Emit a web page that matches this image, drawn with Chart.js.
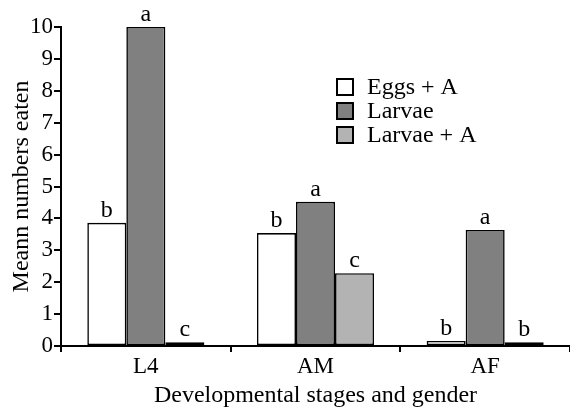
<!DOCTYPE html>
<html>
<head>
<meta charset="utf-8">
<script src="https://cdn.jsdelivr.net/npm/chart.js@4/dist/chart.umd.min.js"></script>
<style>
  html, body { margin: 0; padding: 0; background: #fff; }
  #wrap { width: 570px; height: 410px; }
</style>
</head>
<body>
<div id="wrap"><canvas id="chart" width="570" height="410"></canvas></div>
<script>
// data
const stages = ['L4', 'AM', 'AF'];
const eggsA = [3.86, 3.54, 0.16];
const larvae = [10.0, 4.52, 3.64];
const larvaeA = [0.12, 2.28, 0.12];
const eggsALetters = ['b', 'b', 'b'];
const larvaeLetters = ['a', 'a', 'a'];
const larvaeALetters = ['c', 'c', 'b'];
const yTicks = [0, 1, 2, 3, 4, 5, 6, 7, 8, 9, 10];

const FONT = '"Liberation Serif", "Times New Roman", serif';

// letters over each bar
const letterPlugin = {
    id: 'letters',
    afterDatasetsDraw(chart) {
        const ctx = chart.ctx;
        ctx.save();
        ctx.font = '24px ' + FONT;
        ctx.fillStyle = '#000';
        ctx.textAlign = 'center';
        ctx.textBaseline = 'alphabetic';
        chart.data.datasets.forEach((ds, i) => {
            const meta = chart.getDatasetMeta(i);
            meta.data.forEach((bar, j) => {
                ctx.fillText(ds.letters[j], bar.x, bar.y - 6);
            });
        });
        ctx.restore();
    }
};

// legend drawn inside the plot
const legendPlugin = {
    id: 'boxLegend',
    afterDraw(chart) {
        const ctx = chart.ctx;
        const x = 337, y0 = 79, step = 24, box = 16;
        ctx.save();
        ctx.font = '24px ' + FONT;
        ctx.textBaseline = 'middle';
        chart.data.datasets.forEach((ds, i) => {
            const y = y0 + i * step;
            ctx.fillStyle = ds.backgroundColor;
            ctx.fillRect(x, y, box, box);
            ctx.lineWidth = 2;
            ctx.strokeStyle = '#000';
            ctx.strokeRect(x, y, box, box);
            ctx.fillStyle = '#000';
            ctx.fillText(ds.label, x + 30, y + box / 2 + 1);
        });
        ctx.restore();
    }
};

const common = {
    borderColor: '#000',
    borderWidth: 1.6,
    borderSkipped: false,
    categoryPercentage: 0.69,
    barPercentage: 1.0
};

new Chart(document.getElementById('chart'), {
    type: 'bar',
    data: {
        labels: stages,
        datasets: [
            { label: 'Eggs + A', data: eggsA, backgroundColor: '#ffffff', letters: eggsALetters, ...common },
            { label: 'Larvae', data: larvae, backgroundColor: '#808080', letters: larvaeLetters, ...common },
            { label: 'Larvae + A', data: larvaeA, backgroundColor: '#b3b3b3', letters: larvaeALetters, ...common }
        ]
    },
    options: {
        responsive: false,
        animation: false,
        layout: { padding: { top: 27, right: 0, left: 0, bottom: 0 } },
        plugins: {
            legend: { display: false },
            tooltip: { enabled: false }
        },
        scales: {
            x: {
                afterFit(axis) { axis.height = 64; },
                grid: { offset: true, drawOnChartArea: false, tickLength: 6, color: '#000', lineWidth: 2 },
                border: { color: '#000', width: 2 },
                ticks: { color: '#000', font: { family: FONT, size: 23 }, padding: 1 },
                title: { display: true, text: 'Developmental stages and gender', color: '#000',
                         font: { family: FONT, size: 24 }, padding: { top: 0, bottom: 0 } }
            },
            y: {
                min: 0,
                max: 10,
                afterFit(axis) { axis.width = 61; },
                afterBuildTicks(axis) { axis.ticks = yTicks.map(v => ({ value: v })); },
                grid: { drawOnChartArea: false, tickLength: 7, color: '#000', lineWidth: 2 },
                border: { color: '#000', width: 2 },
                ticks: { color: '#000', font: { family: FONT, size: 23 }, padding: 1 },
                title: { display: true, text: 'Meann numbers eaten', color: '#000',
                         font: { family: FONT, size: 24 }, padding: { top: 7, bottom: 0 } }
            }
        }
    },
    plugins: [letterPlugin, legendPlugin]
});
</script>
</body>
</html>
